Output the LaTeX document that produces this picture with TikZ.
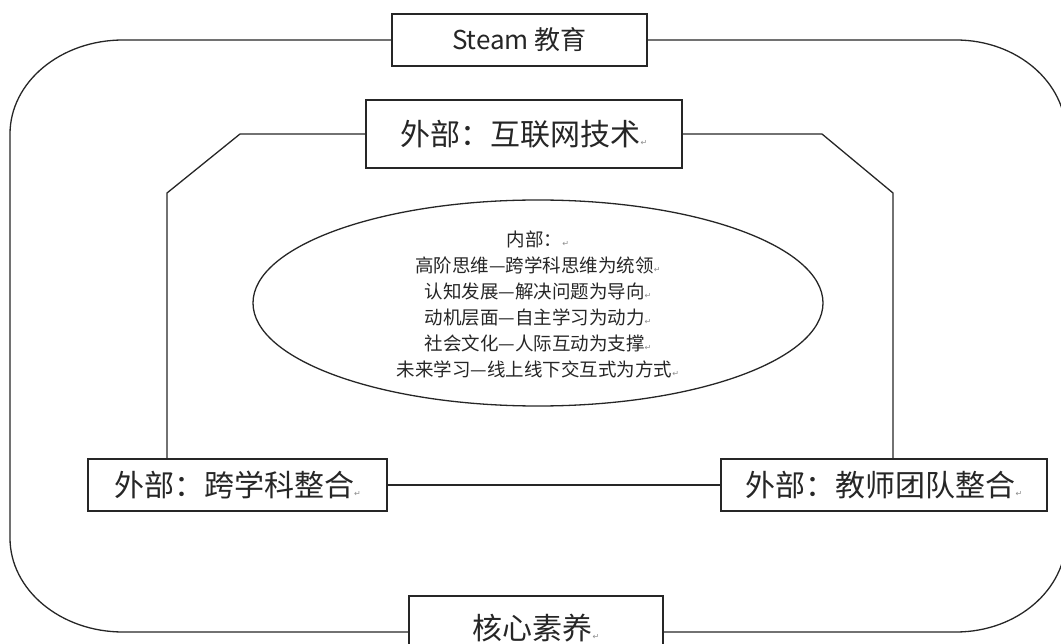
\documentclass[tikz,border=0pt]{standalone}
\usepackage{fontspec}
\setmainfont{Noto Sans CJK SC}
\newfontfamily\dejavu{DejaVu Sans}
\usetikzlibrary{shapes.geometric,calc}
\newcommand\retmark{{\dejavu\fontsize{8}{8}\selectfont\color{black!45}↵}}
\begin{document}
\begin{tikzpicture}[x=1pt,y=-1pt,
  lin/.style={line width=1.3pt,draw=black!85},
  boxnode/.style={lin,rectangle,inner sep=0pt,text=black!85,fill=white},
  bigtxt/.style={font=\fontsize{30}{30}\selectfont}]
\useasboundingbox (0,0) rectangle (1061,644);
% nodes
\node[boxnode,minimum width=255pt,minimum height=52pt,font=\fontsize{26}{26}\selectfont] (steam) at (519.5,40) {Steam 教育\hspace{22pt}};
\node[boxnode,bigtxt,minimum width=316pt,minimum height=68pt] (net) at (524,134) {外部：互联网技术\retmark};
\node[boxnode,bigtxt,minimum width=299pt,minimum height=52pt] (left) at (237.5,485) {外部：跨学科整合\retmark};
\node[boxnode,bigtxt,minimum width=326pt,minimum height=52pt] (right) at (884,485) {外部：教师团队整合\retmark};
\node[boxnode,bigtxt,minimum width=254pt,minimum height=64pt] (core) at (536,628) {核心素养\retmark};
\node[lin,ellipse,minimum width=570pt,minimum height=206pt] (ell) at (538,303) {};
\node[align=center,text=black!85,font=\fontsize{18.5}{26}\selectfont] (inner) at (538,304) {%
内部：\retmark\\
高阶思维—跨学科思维为统领\retmark\\
认知发展—解决问题为导向\retmark\\
动机层面—自主学习为动力\retmark\\
社会文化—人际互动为支撑\retmark\\
未来学习—线上线下交互式为方式\retmark};
% coordinates
\coordinate (lt) at (167,193);
\coordinate (rt) at (893,193);
\coordinate (lt0) at (240,134);
\coordinate (rt0) at (822,134);
\coordinate (ob) at (0,632);
% outer frame
\draw[lin] (steam.west) -- (123,40)
  arc[start angle=-90,end angle=-180,x radius=113,y radius=94]
  -- (10,538)
  arc[start angle=180,end angle=90,x radius=113,y radius=94]
  -- (core.west |- ob);
\draw[lin] (steam.east) -- (956,40)
  arc[start angle=-90,end angle=0,x radius=110,y radius=94]
  -- (1066,538)
  arc[start angle=0,end angle=90,x radius=110,y radius=94]
  -- (core.east |- ob);
% inner frame
\draw[lin] (net.west) -- (lt0) -- (lt) -- (lt |- left.north);
\draw[lin] (net.east) -- (rt0) -- (rt) -- (rt |- right.north);
\draw[lin] (left.east) -- (right.west);
\end{tikzpicture}
\end{document}
